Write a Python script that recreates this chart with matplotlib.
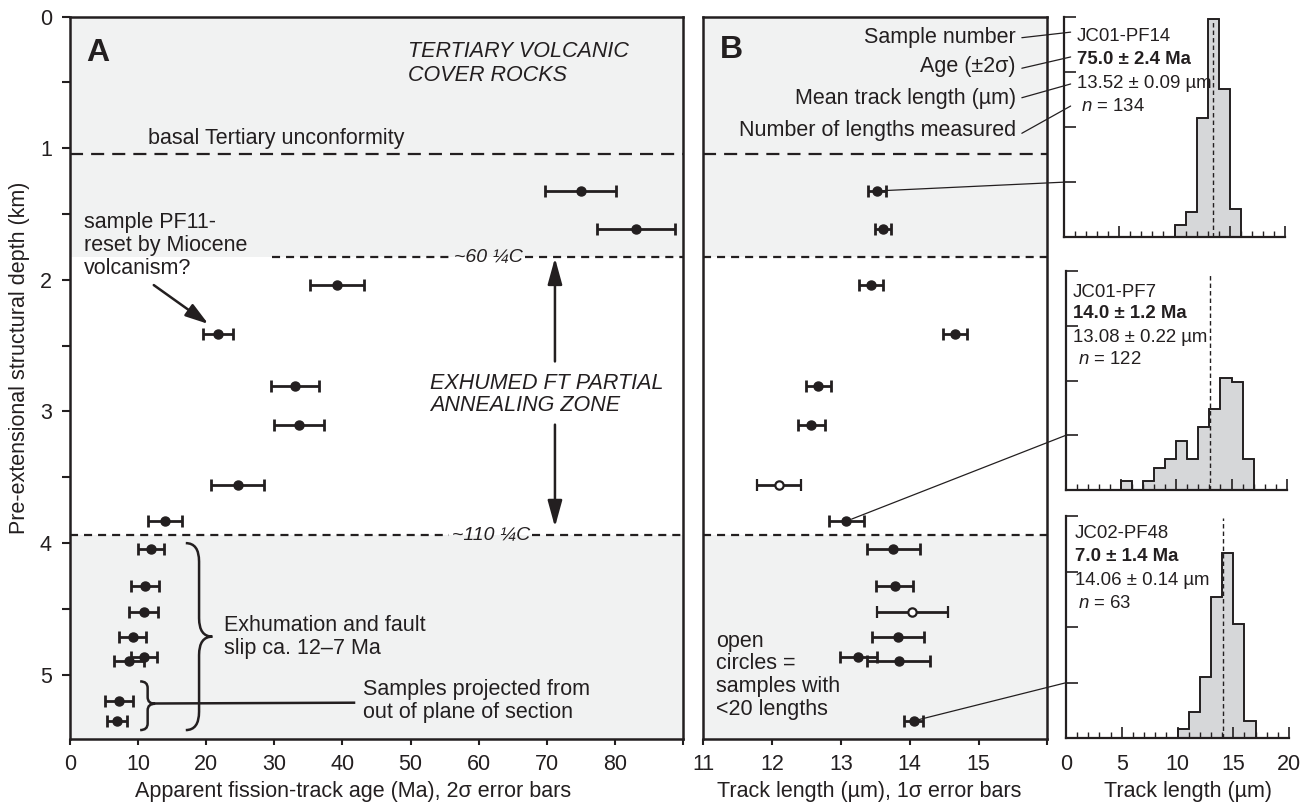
import numpy as np
import matplotlib
matplotlib.use('Agg')
import matplotlib.pyplot as plt
from matplotlib.path import Path
from matplotlib.patches import PathPatch, ConnectionPatch

plt.rcParams['font.family'] = ['Liberation Sans', 'DejaVu Sans']
plt.rcParams['mathtext.fontset'] = 'custom'
plt.rcParams['mathtext.it'] = 'Liberation Sans:italic'
plt.rcParams['mathtext.rm'] = 'Liberation Sans'
plt.rcParams['lines.scale_dashes'] = False

INK = '#231f20'
SHADE = '#f1f2f2'
HFILL = '#d6d7d9'
FS = 15.5
HFS = 13.4

# ---------------- data ----------------
depth_km = [1.325, 1.614, 2.04, 2.41, 2.806, 3.10, 3.555, 3.833,
            4.043, 4.325, 4.525, 4.715, 4.862, 4.895, 5.20, 5.35]
age_ma = [75.0, 83.1, 39.2, 21.7, 33.0, 33.6, 24.6, 13.9,
          11.9, 11.0, 10.8, 9.2, 10.9, 8.7, 7.2, 6.9]
age_err_2s = [5.2, 5.7, 4.0, 2.2, 3.5, 3.7, 3.9, 2.5,
              1.9, 2.1, 2.15, 1.95, 1.9, 2.2, 2.1, 1.45]
track_len_um = [13.52, 13.61, 13.44, 14.66, 12.67, 12.57, 12.10, 13.08,
                13.76, 13.78, 14.04, 13.83, 13.25, 13.84, np.nan, 14.06]
track_err_1s = [0.13, 0.12, 0.17, 0.18, 0.18, 0.20, 0.32, 0.26,
                0.385, 0.27, 0.515, 0.375, 0.27, 0.455, np.nan, 0.14]
few_lengths = [False, False, False, False, False, False, True, False,
               False, False, True, False, False, False, False, False]

unconformity_km = 1.046
paz_top_km = 1.824     # ~60 C
paz_base_km = 3.937    # ~110 C

hist_samples = ['JC01-PF14', 'JC01-PF7', 'JC02-PF48']
hist_ages = ['75.0 ± 2.4 Ma', '14.0 ± 1.2 Ma', '7.0 ± 1.4 Ma']
hist_means = [13.52, 13.08, 14.06]
hist_mean_err = ['0.09', '0.22', '0.14']
hist_n = [134, 122, 63]
hist_first_bin = [10, 5, 10]
pct_pf14 = [2.2, 4.5, 21.6, 39.6, 26.9, 5.2]
pct_pf7 = [1.6, 0.0, 1.6, 4.1, 5.7, 9.0, 5.7, 11.5, 14.8, 20.5, 19.7, 5.7]
pct_pf48 = [1.6, 4.8, 11.1, 25.4, 33.3, 20.6, 3.2]
hist_pcts = [pct_pf14, pct_pf7, pct_pf48]
hist_link_index = [0, 7, 15]

a_xticks = list(range(0, 91, 10))
a_xticklabels = [str(v) for v in range(0, 81, 10)] + ['']
b_xticks = [11, 12, 13, 14, 15, 16]
b_xticklabels = ['11', '12', '13', '14', '15', '']
h_xticks = [0, 5, 10, 15, 20]

# ---------------- figure ----------------
fig = plt.figure(figsize=(13.12, 8.05), dpi=100)
axA = fig.add_axes([0.05335, 0.08161, 0.46723, 0.89789])
axB = fig.add_axes([0.53605, 0.08161, 0.26220, 0.89789])
axH = [fig.add_axes([0.81098, 0.70522, 0.16845, 0.27404]),
       fig.add_axes([0.81250, 0.39130, 0.16822, 0.27205]),
       fig.add_axes([0.81250, 0.08286, 0.16997, 0.27615])]

YMAX = 5.49
long_dash = (0, (9.4, 5.8))
short_dash = (0, (5.8, 4.3))

for ax, (x0, x1) in ((axA, (0, 90)), (axB, (11, 16))):
    ax.set_xlim(x0, x1)
    ax.set_ylim(YMAX, 0)
    ax.axhspan(0, paz_top_km, color=SHADE, zorder=0, lw=0)
    ax.axhspan(paz_base_km, YMAX, color=SHADE, zorder=0, lw=0)
    ax.axhline(unconformity_km, color=INK, lw=1.6, ls=long_dash, zorder=1)
    for s in ax.spines.values():
        s.set_linewidth(1.8)
        s.set_color(INK)

# PAZ lines in A are broken around labels
for seg in [(29.6, 56.3), (66.8, 90)]:
    axA.plot(seg, [paz_top_km] * 2, color=INK, lw=1.6, ls=short_dash, zorder=1)
for seg in [(0, 55.6), (67.9, 90)]:
    axA.plot(seg, [paz_base_km] * 2, color=INK, lw=1.6, ls=short_dash, zorder=1)
for yk in (paz_top_km, paz_base_km):
    axB.axhline(yk, color=INK, lw=1.6, ls=short_dash, zorder=1)

axA.text(61.5, paz_top_km, '~60 ¼C', style='italic', fontsize=14, color=INK,
         ha='center', va='center')
axA.text(61.8, paz_base_km, '~110 ¼C', style='italic', fontsize=14, color=INK,
         ha='center', va='center')

# ---- panel A data
axA.errorbar(age_ma, depth_km, xerr=age_err_2s, fmt='o', color=INK, ms=6.5,
             lw=2, capsize=4.5, capthick=2, zorder=3)

# ---- panel B data
tl = np.array(track_len_um)
te = np.array(track_err_1s)
dk = np.array(depth_km)
fl = np.array(few_lengths)
axB.errorbar(tl[~fl], dk[~fl], xerr=te[~fl], fmt='o', color=INK, ms=6.5,
             lw=2, capsize=4.5, capthick=2, zorder=3)
axB.errorbar(tl[fl], dk[fl], xerr=te[fl], fmt='o', color=INK, mfc='white',
             mec=INK, mew=1.6, ms=6, lw=2, capsize=4.5, capthick=2, zorder=3)

# ---- axes formatting A
axA.set_xticks(a_xticks)
axA.set_xticklabels(a_xticklabels)
axA.set_yticks([0, 1, 2, 3, 4, 5])
axA.set_yticks(np.arange(0.5, 5.5, 1.0), minor=True)
axA.tick_params(axis='x', direction='out', length=4, width=1.5, color=INK,
                labelsize=FS, labelcolor=INK, pad=6.5)
axA.tick_params(axis='y', which='both', direction='out', length=6, width=1.5,
                color=INK, labelsize=FS, labelcolor=INK, pad=7)
axA.set_xlabel('Apparent fission-track age (Ma), 2σ error bars', fontsize=FS, color=INK)
axA.xaxis.set_label_coords(0.4617, -0.058)
axA.set_ylabel('Pre-extensional structural depth (km)', fontsize=FS, color=INK)
axA.yaxis.set_label_coords(-0.066, 0.528)

# ---- axes formatting B
axB.set_xticks(b_xticks)
axB.set_xticklabels(b_xticklabels)
axB.set_yticks([])
axB.tick_params(axis='x', direction='out', length=4, width=1.5, color=INK,
                labelsize=FS, labelcolor=INK, pad=6.5)
axB.set_xlabel('Track length (µm), 1σ error bars', fontsize=FS, color=INK)
axB.xaxis.set_label_coords(0.481, -0.058)

# ---- annotations in A
axA.text(2.45, 0.275, 'A', fontsize=23, fontweight='bold', color=INK,
         ha='left', va='center')
axA.text(49.6, 0.358, 'TERTIARY VOLCANIC\nCOVER ROCKS', style='italic',
         fontsize=FS, color=INK, ha='left', va='center', linespacing=1.15)
axA.text(11.5, 0.925, 'basal Tertiary unconformity', fontsize=FS, color=INK,
         ha='left', va='center')
axA.text(2.06, 1.74, 'sample PF11-\nreset by Miocene\nvolcanism?', fontsize=FS,
         color=INK, ha='left', va='center', linespacing=1.12)
axA.annotate('', xy=(20.3, 2.335), xytext=(12.3, 2.04),
             arrowprops=dict(arrowstyle='-|>,head_length=0.7,head_width=0.22',
                             mutation_scale=20, color=INK, lw=1.8,
                             shrinkA=0, shrinkB=0))
axA.text(52.9, 2.87, 'EXHUMED FT PARTIAL\nANNEALING ZONE', style='italic',
         fontsize=FS, color=INK, ha='left', va='center', linespacing=1.1)
for y_from, y_to in ((2.62, paz_top_km + 0.01), (3.10, paz_base_km - 0.06)):
    axA.annotate('', xy=(71.2, y_to), xytext=(71.2, y_from),
                 arrowprops=dict(arrowstyle='-|>,head_length=0.8,head_width=0.22',
                                 mutation_scale=20, color=INK, lw=1.8,
                                 shrinkA=0, shrinkB=0))
axA.text(22.65, 4.71, 'Exhumation and fault\nslip ca. 12–7 Ma', fontsize=FS,
         color=INK, ha='left', va='center', linespacing=1.12)
axA.text(43.0, 5.20, 'Samples projected from\nout of plane of section',
         fontsize=FS, color=INK, ha='left', va='center', linespacing=1.12)


def curly_brace(ax, x_tip, x_point, y_top, y_bot, y_mid, dy, lw=1.8):
    xm = (x_tip + x_point) / 2.0
    verts = [(x_tip, y_top), (xm, y_top), (xm, y_top + dy),
             (xm, y_mid - dy), (xm, y_mid), (x_point, y_mid),
             (xm, y_mid), (xm, y_mid + dy),
             (xm, y_bot - dy), (xm, y_bot), (x_tip, y_bot)]
    codes = [Path.MOVETO, Path.CURVE3, Path.CURVE3, Path.LINETO,
             Path.CURVE3, Path.CURVE3, Path.CURVE3, Path.CURVE3,
             Path.LINETO, Path.CURVE3, Path.CURVE3]
    ax.add_patch(PathPatch(Path(verts, codes), fill=False, ec=INK, lw=lw,
                           zorder=2))


curly_brace(axA, 17.0, 20.9, 4.0, 5.42, 4.71, 0.14)
curly_brace(axA, 10.3, 12.5, 5.05, 5.42, 5.22, 0.05)
axA.plot([12.5, 41.7], [5.218, 5.212], color=INK, lw=1.8, zorder=2)

# ---- annotations in B
axB.text(11.24, 0.254, 'B', fontsize=23, fontweight='bold', color=INK,
         ha='left', va='center')
key_labels = ['Sample number', 'Age (±2σ)', 'Mean track length (µm)',
              'Number of lengths measured']
key_y_km = [0.161, 0.381, 0.624, 0.869]
key_start_km = [0.161, 0.393, 0.617, 0.887]
key_end_pct = [37.2, 32.7, 27.8, 23.8]
for lab, yk in zip(key_labels, key_y_km):
    axB.text(15.545, yk, lab, fontsize=FS, color=INK, ha='right', va='center')
for ys, ye in zip(key_start_km, key_end_pct):
    fig.add_artist(ConnectionPatch(xyA=(15.63, ys), coordsA=axB.transData,
                                   xyB=(0.6, ye), coordsB=axH[0].transData,
                                   color=INK, lw=0.9))
axB.text(11.19, 5.005, 'open\ncircles =\nsamples with\n<20 lengths', fontsize=FS,
         color=INK, ha='left', va='center', linespacing=1.12)

# ---- histograms
text_x = [0.057, 0.03, 0.04]
n_x = [0.075, 0.053, 0.054]
text_y = [[0.909, 0.804, 0.697, 0.592],
          [0.901, 0.807, 0.697, 0.594],
          [0.922, 0.820, 0.712, 0.607]]
for k, ax in enumerate(axH):
    vals = hist_pcts[k]
    edges = np.arange(hist_first_bin[k], hist_first_bin[k] + len(vals) + 1)
    ax.stairs(vals, edges, fill=True, facecolor=HFILL, edgecolor=INK,
              linewidth=1.2, zorder=1)
    ax.stairs(vals, edges, fill=False, edgecolor=INK, linewidth=1.2, zorder=2)
    ax.vlines(hist_means[k], 0, 39.6, colors=INK, lw=1.0,
              linestyles=[(0, (3.2, 2.2))], zorder=3)
    ax.set_xlim(0, 20)
    ax.set_ylim(0, 40)
    for side in ('top', 'right'):
        ax.spines[side].set_visible(False)
    for side in ('left', 'bottom'):
        ax.spines[side].set_linewidth(1.6)
        ax.spines[side].set_color(INK)
    ax.patch.set_alpha(0)
    ax.set_yticks([0, 10, 20, 30, 40])
    ax.set_yticklabels([])
    ax.set_xticks(h_xticks)
    ax.set_xticks(range(0, 21), minor=True)
    ax.tick_params(axis='y', direction='in', length=8.5, width=1.2, color=INK)
    ax.tick_params(axis='x', which='major', direction='in', length=8.2,
                   width=1.2, color=INK, labelsize=FS, labelcolor=INK, pad=11)
    ax.tick_params(axis='x', which='minor', direction='in', length=4,
                   width=1.0, color=INK)
    if k < 2:
        ax.set_xticklabels([])
    tx = text_x[k]
    ty = text_y[k]
    ax.text(tx, ty[0], hist_samples[k], transform=ax.transAxes, fontsize=HFS,
            color=INK, ha='left', va='center', zorder=4)
    ax.text(tx, ty[1], hist_ages[k], transform=ax.transAxes, fontsize=HFS,
            fontweight='bold', color=INK, ha='left', va='center', zorder=4)
    ax.text(tx, ty[2], f'{hist_means[k]:.2f} ± {hist_mean_err[k]} µm',
            transform=ax.transAxes, fontsize=HFS, color=INK, ha='left',
            va='center', zorder=4)
    ax.text(n_x[k], ty[3], f'$n$ = {hist_n[k]}', transform=ax.transAxes,
            fontsize=HFS, color=INK, ha='left', va='center', zorder=4)
    i = hist_link_index[k]
    fig.add_artist(ConnectionPatch(xyA=(track_len_um[i], depth_km[i]),
                                   coordsA=axB.transData, xyB=(0, 10),
                                   coordsB=ax.transData, color=INK, lw=0.9,
                                   shrinkA=4, shrinkB=0))

axH[2].set_xlabel('Track length (µm)', fontsize=FS, color=INK)
axH[2].xaxis.set_label_coords(0.548, -0.192)

fig.savefig('out.png', dpi=100)
